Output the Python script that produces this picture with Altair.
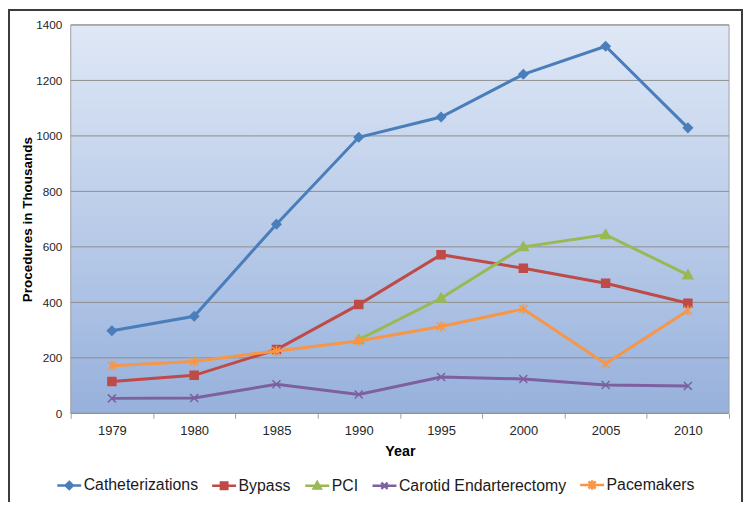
import altair as alt
import pandas as pd

# ---- data ----
years = ["1979", "1980", "1985", "1990", "1995", "2000", "2005", "2010"]
series = ["Catheterizations", "Bypass", "PCI", "Carotid Endarterectomy", "Pacemakers"]
catheterizations = [298, 350, 682, 995, 1068, 1222, 1323, 1029]
bypass = [115, 137, 230, 392, 572, 523, 469, 397]
pci = [None, None, None, 266, 415, 600, 644, 499]
carotid = [54, 55, 105, 68, 131, 124, 102, 99]
pacemakers = [172, 187, 225, 261, 313, 376, 179, 371]
y_ticks = [0, 200, 400, 600, 800, 1000, 1200, 1400]

values_by_series = [catheterizations, bypass, pci, carotid, pacemakers]

# ---- styles ----
colors = ["#4A7EBB", "#BE4B48", "#98B954", "#7D60A0", "#F79646"]
marker_paths = [
    "M0,-1L1,0L0,1L-1,0Z",
    "M-1,-1H1V1H-1Z",
    "M0,-1L1,0.75H-1Z",
    "M-1,-1L1,1M-1,1L1,-1",
    "M-1,-1L1,1M-1,1L1,-1M0,-1.3V1.3",
]
marker_sizes = [81, 64, 100, 64, 64]
marker_filled = [True, True, True, False, False]
legend_paths = [
    "M-1,0H1M0,-0.3L0.3,0L0,0.3L-0.3,0Z",
    "M-1,0H1M-0.27,-0.27H0.27V0.27H-0.27Z",
    "M-1,0H1M0,-0.32L0.3,0.22H-0.3Z",
    "M-1,0H1M-0.26,-0.26L0.26,0.26M-0.26,0.26L0.26,-0.26",
    "M-1,0H1M-0.3,-0.3L0.3,0.3M-0.3,0.3L0.3,-0.3M0,-0.4V0.4",
]

FONT = "Liberation Sans"
W, H = 661, 390

rows = []
for s, vals in zip(series, values_by_series):
    for yr, v in zip(years, vals):
        if v is not None:
            rows.append({"series": s, "year": yr, "value": v})
df = pd.DataFrame(rows)

x_enc = alt.X(
    "year:N",
    scale=alt.Scale(type="band", domain=years, paddingInner=0, paddingOuter=0),
    axis=alt.Axis(
        title="Year", titleFont=FONT, titleFontSize=14.3, titleFontWeight="bold",
        titleColor="#000000", titleX=W / 2, titleY=42, titleBaseline="alphabetic",
        labelFont=FONT, labelFontSize=13, labelColor="#262626", labelAngle=0,
        labelPadding=6, tickSize=5, tickColor="#a0a0a0", tickBand="extent",
        domain=False, grid=False,
    ),
)
y_enc = alt.Y(
    "value:Q",
    scale=alt.Scale(domain=[0, 1400], nice=False),
    axis=alt.Axis(
        title="Procedures in Thousands", values=y_ticks, format="d", titleFont=FONT,
        titleFontSize=13.5, titleFontWeight="bold", titleColor="#000000",
        titleX=-39, titleY=H / 2, titleAngle=270, titleBaseline="alphabetic",
        labelFont=FONT, labelFontSize=11.8, labelColor="#262626", labelPadding=9,
        ticks=False, domain=False, grid=False,
    ),
)

one = pd.DataFrame({"a": [0]})

frame = alt.Chart(one).mark_rect(fill="transparent", stroke="#3c3c3c", strokeWidth=2).encode(
    x=alt.value(-62), x2=alt.value(674), y=alt.value(-15), y2=alt.value(600)
)

background = alt.Chart(one).mark_rect(
    color=alt.LinearGradient(
        gradient="linear",
        stops=[alt.GradientStop(color="#dfe8f6", offset=0),
               alt.GradientStop(color="#97b1dc", offset=1)],
        x1=0, x2=0, y1=0, y2=1,
    ),
    stroke="#a0a0a0", strokeWidth=1,
).encode(x=alt.value(0), x2=alt.value(W), y=alt.value(0), y2=alt.value(H))

grid = alt.Chart(pd.DataFrame({"value": y_ticks})).mark_rule(
    color="#8e8e8e", strokeWidth=1
).encode(y=y_enc)

layers = [frame, background, grid]
for i, s in enumerate(series):
    base = alt.Chart(df).transform_filter(alt.datum.series == s)
    line = base.mark_line(color=colors[i], strokeWidth=3).encode(x=x_enc, y=y_enc)
    pt_kwargs = dict(shape=marker_paths[i], size=marker_sizes[i], stroke=colors[i],
                     strokeWidth=1.5, opacity=1, filled=False)
    if marker_filled[i]:
        pt_kwargs["fill"] = colors[i]
    pts = base.mark_point(**pt_kwargs).encode(x=x_enc, y=y_enc)
    layers += [line, pts]

leg = alt.Legend(
    title=None, orient="none", legendX=-15, legendY=448, direction="horizontal",
    columnPadding=8.5, labelOffset=1, symbolSize=576, symbolStrokeWidth=2.5,
    labelFont=FONT, labelFontSize=15.9, labelColor="#1a1a1a", padding=0,
    symbolOpacity=1, labelLimit=0,
)
legend_layer = alt.Chart(pd.DataFrame({"series": series})).mark_point(
    filled=True, size=576, strokeWidth=2.5, opacity=1
).encode(
    x=alt.value(-1000), y=alt.value(-1000),
    fill=alt.Fill("series:N", scale=alt.Scale(domain=series, range=colors), legend=leg),
    stroke=alt.Stroke("series:N", scale=alt.Scale(domain=series, range=colors), legend=leg),
    shape=alt.Shape("series:N", scale=alt.Scale(domain=series, range=legend_paths), legend=leg),
)
layers.append(legend_layer)

chart = alt.layer(*layers).properties(
    width=W, height=H,
    autosize=alt.AutoSizeParams(type="none"),
    padding={"left": 63, "top": 16, "right": 14, "bottom": 88},
    background="white",
).configure_view(stroke=None)

chart.save("out.html", embed_options={"renderer": "svg", "actions": False})
